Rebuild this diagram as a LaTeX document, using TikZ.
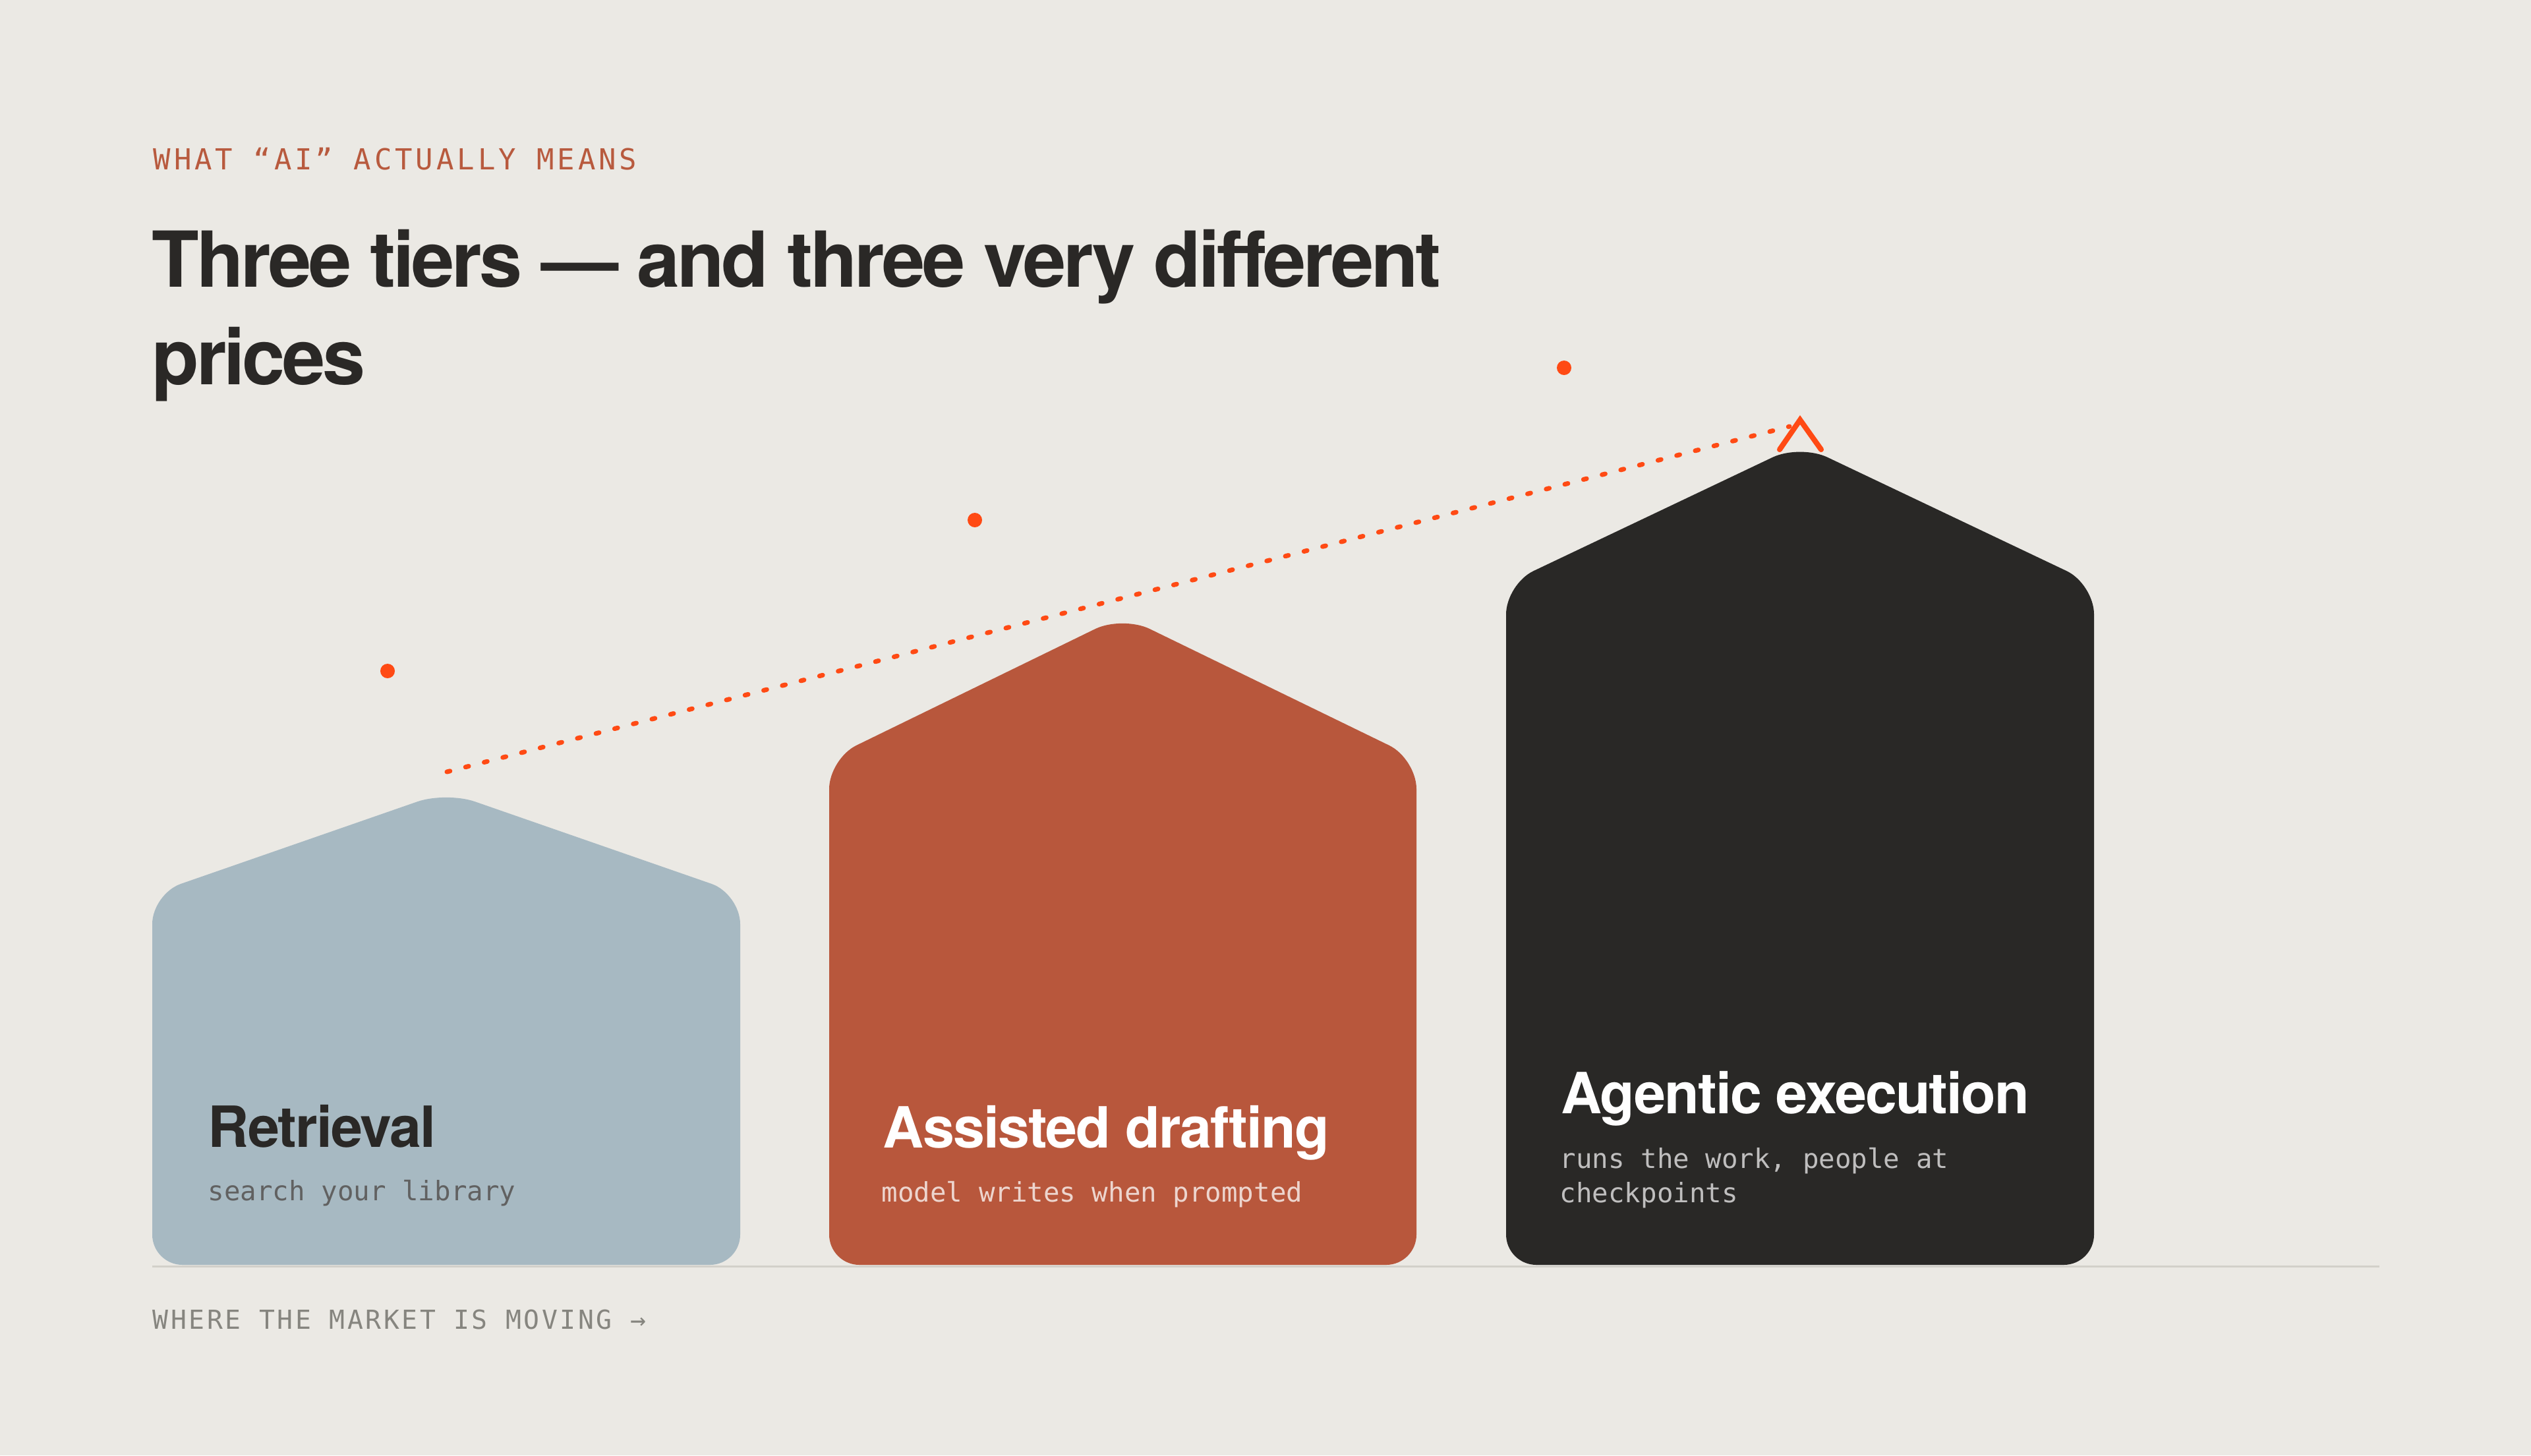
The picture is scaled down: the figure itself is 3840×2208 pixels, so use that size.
\documentclass[tikz,border=0pt]{standalone}
\usepackage{fontspec}
\setmainfont{TeX Gyre Heros}
\newfontfamily\headfont[LetterSpace=-3.6]{TeX Gyre Heros}
\newfontfamily\namefont[LetterSpace=-2.2]{TeX Gyre Heros}
\newfontfamily\monofont{DejaVu Sans Mono}
\newfontfamily\capsfont[LetterSpace=9]{DejaVu Sans Mono}
\newfontfamily\kickerfont[LetterSpace=11.2]{DejaVu Sans Mono}
\usetikzlibrary{positioning}
\definecolor{paper}{HTML}{EBE9E4}
\definecolor{ink}{HTML}{2A2826}
\definecolor{accent}{HTML}{FF4A14}
\definecolor{rust}{HTML}{B8573C}
\definecolor{slate}{HTML}{A7B9C2}
\definecolor{coal}{HTML}{292826}
\definecolor{kickertext}{HTML}{B85A3E}
\definecolor{foottext}{HTML}{86857F}
\definecolor{rulegray}{HTML}{D2D0CA}

\begin{document}
\begin{tikzpicture}[
    x=0.01cm, y=-0.01cm,
    tier/.style={rounded corners=4.6mm},
    heading/.style={inner sep=0pt, anchor=base west, text=ink, font=\headfont\bfseries\fontsize{33.3}{40}\selectfont},
    tiername/.style={inner sep=0pt, anchor=base west, font=\namefont\bfseries\fontsize{24.5}{29}\selectfont},
    tiernote/.style={inner sep=0pt, anchor=base west, font=\monofont\fontsize{11.6}{14.8}\selectfont},
    kicker/.style={inner sep=0pt, anchor=base west, font=\kickerfont\fontsize{12.5}{15}\selectfont},
    dot/.style={circle, fill=accent, inner sep=0pt, minimum size=0.22cm},
    trend/.style={draw=accent, line width=2pt, line cap=round, dash pattern=on 1.4pt off 6.9pt},
    chevron/.style={draw=accent, line width=2.3pt, line cap=round}
]
    \fill[paper] (0,0) rectangle (3840,2208);
    \useasboundingbox (0,0) rectangle (3840,2208);

    % header
    \node[kicker, text=kickertext] (kicker) at (232,257) {WHAT “AI” ACTUALLY MEANS};
    \node[heading] (title) at (230,435) {Three tiers — and three very different};
    \node[heading] (title2) at (230,583) {prices};

    % base rule
    \draw[rulegray, line width=0.85pt] (231,1921) -- (3610,1921);

    % tiers
    \fill[slate, tier] (677,1919) -- (231,1919) -- (231,1356) -- (677,1201) -- (1123,1356) -- (1123,1919) -- cycle;
    \fill[rust, tier] (1703,1919) -- (1258,1919) -- (1258,1151) -- (1703,934) -- (2149,1151) -- (2149,1919) -- cycle;
    \fill[coal, tier] (2731,1919) -- (2285,1919) -- (2285,886) -- (2731,674) -- (3177,886) -- (3177,1919) -- cycle;

    \node[tiername, text=ink] (retrieval) at (315,1740) {Retrieval};
    \node[tiernote, text=black!62] (retrievalnote) at (315,1821) {search your library};
    \node[tiername, text=white] (drafting) at (1339,1741) {Assisted drafting};
    \node[tiernote, text=white!75!rust] (draftingnote) at (1337,1823) {model writes when prompted};
    \node[tiername, text=white!95!paper] (agentic) at (2368,1689) {Agentic execution};
    \node[tiernote, text=white!70!coal] (agenticnote) at (2366,1772) {runs the work, people at};
    \node[tiernote, text=white!70!coal] (agenticnote2) at (2366,1824) {checkpoints};

    % price markers
    \node[dot] (priceA) at (588,1018) {};
    \node[dot] (priceB) at (1479,789) {};
    \node[dot] (priceC) at (2373,558) {};

    % trend
    \coordinate (trendstart) at (678,1171);
    \coordinate (trendend) at (2715,647);
    \coordinate (tipleft) at (2700,682);
    \coordinate (tip) at (2731,637);
    \coordinate (tipright) at (2763,682);
    \draw[trend] (trendstart) -- (trendend);
    \draw[chevron] (tipleft) -- (tip) -- (tipright);

    % footer
    \node[kicker, text=foottext, font=\capsfont\fontsize{11.3}{14}\selectfont] (footer) at (231,2016) {WHERE THE MARKET IS MOVING →};
\end{tikzpicture}
\end{document}
